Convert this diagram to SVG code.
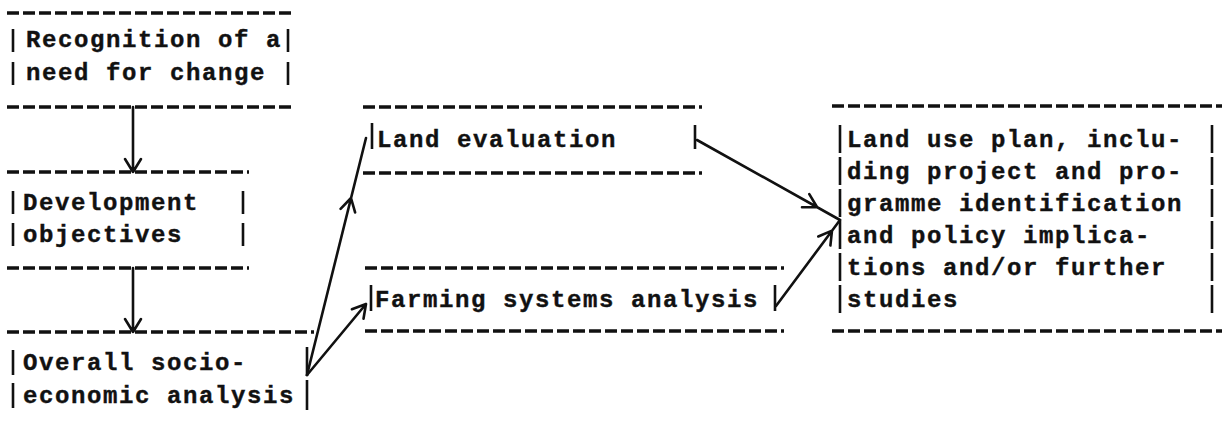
<svg xmlns="http://www.w3.org/2000/svg" width="1226" height="423" viewBox="0 0 1226 423">
  <style>
    .t { font-family: "Liberation Mono", "DejaVu Sans Mono", monospace; font-size: 24px; font-weight: bold; letter-spacing: 1.6px; fill: #111; stroke: #111; stroke-width: 0.4px; }
    .dash { stroke: #111; stroke-width: 3.5; stroke-dasharray: 12 4; fill: none; }
    .bar { stroke: #111; stroke-width: 2.6; fill: none; }
    .conn { stroke: #111; stroke-width: 2.6; fill: none; stroke-linecap: round; stroke-linejoin: round; }
  </style>
  <rect width="1226" height="423" fill="#fff"/>

  <!-- Recognition of a need for change -->
  <g id="recognition">
    <line class="dash" x1="7" y1="13" x2="291" y2="13"/>
    <path class="bar" d="M13 29V52M13 62V85M288 29V52M288 62V85"/>
    <text class="t" x="26" y="47">Recognition of a</text>
    <text class="t" x="26" y="80">need for change</text>
    <line class="dash" x1="7" y1="107" x2="291" y2="107"/>
  </g>

  <!-- Development objectives -->
  <g id="objectives">
    <line class="dash" x1="7" y1="172" x2="249" y2="172"/>
    <path class="bar" d="M13 191V214M13 223V246M243 191V214M243 223V246"/>
    <text class="t" x="23" y="210">Development</text>
    <text class="t" x="23" y="242">objectives</text>
    <line class="dash" x1="7" y1="268" x2="249" y2="268"/>
  </g>

  <!-- Overall socio-economic analysis -->
  <g id="socioeconomic">
    <line class="dash" x1="7" y1="332" x2="314" y2="332"/>
    <path class="bar" d="M13 350V375M13 383V408M307 347V376M307 380V410"/>
    <text class="t" x="23" y="370">Overall socio-</text>
    <text class="t" x="23" y="403">economic analysis</text>
  </g>

  <!-- Land evaluation -->
  <g id="land-evaluation">
    <line class="dash" x1="363" y1="107" x2="702" y2="107"/>
    <path class="bar" d="M372 123V149M695 125V149"/>
    <text class="t" x="377" y="147">Land evaluation</text>
    <line class="dash" x1="363" y1="173" x2="702" y2="173"/>
  </g>

  <!-- Farming systems analysis -->
  <g id="farming-systems">
    <line class="dash" x1="365" y1="268" x2="784" y2="268"/>
    <path class="bar" d="M371 285V311M775 285V311"/>
    <text class="t" x="375" y="307">Farming systems analysis</text>
    <line class="dash" x1="365" y1="331" x2="784" y2="331"/>
  </g>

  <!-- Land use plan -->
  <g id="land-use-plan">
    <line class="dash" x1="832" y1="106" x2="1222" y2="106"/>
    <path class="bar" d="M840 125V153M840 157V185M840 189V217M840 221V249M840 253V281M840 285V313
                         M1212 125V153M1212 157V185M1212 189V217M1212 221V249M1212 253V281M1212 285V313"/>
    <text class="t" x="847" y="147">Land use plan, inclu-</text>
    <text class="t" x="847" y="179">ding project and pro-</text>
    <text class="t" x="847" y="211">gramme identification</text>
    <text class="t" x="847" y="243">and policy implica-</text>
    <text class="t" x="847" y="275">tions and/or further</text>
    <text class="t" x="847" y="307">studies</text>
    <line class="dash" x1="832" y1="331" x2="1222" y2="331"/>
  </g>

  <!-- Connectors with open V arrowheads -->
  <g id="connectors">
    <path class="conn" d="M133 107V172M125 159L133 172L141 159"/>
    <path class="conn" d="M133 268V332M125 319L133 332L141 319"/>
    <path class="conn" d="M307 375L366 138M340.6 208.8L351 198L355.1 212.4"/>
    <path class="conn" d="M307 375L366 304M351.9 309.2L366 304L363.5 318.8"/>
    <path class="conn" d="M697 140L840 220M809.3 194.2L817 207L802 207.3"/>
    <path class="conn" d="M776 306L840 220M818.3 236.5L832 230.6L830.4 245.5"/>
  </g>
</svg>
